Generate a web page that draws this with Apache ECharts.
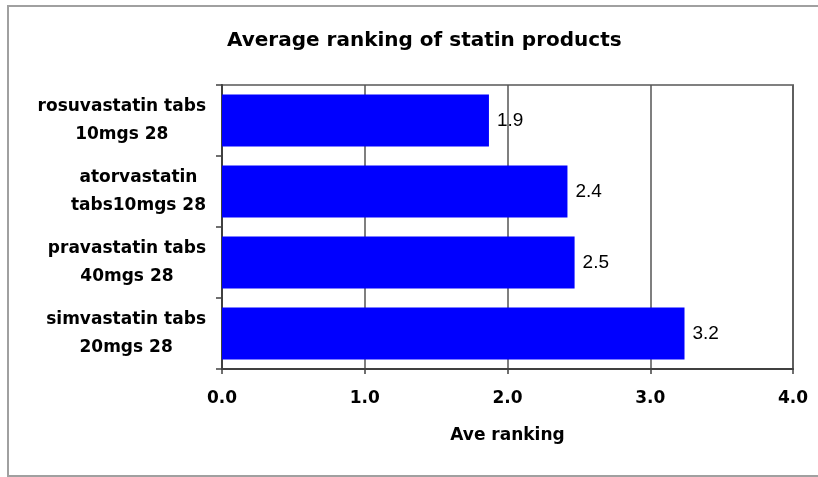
<!DOCTYPE html>
<html>
<head>
<meta charset="utf-8">
<script src="https://cdn.jsdelivr.net/npm/echarts@6/dist/echarts.min.js"></script>
<style>
html,body{margin:0;padding:0;background:#fff;}
#chart{width:818px;height:477px;}
</style>
</head>
<body>
<div id="chart"></div>
<script>
const titleText = 'Average ranking of statin products';
const categories = [
  'rosuvastatin tabs\n10mgs 28',
  'atorvastatin\ntabs10mgs 28',
  'pravastatin tabs\n40mgs 28',
  'simvastatin tabs\n20mgs 28'
];
const aveRanking = [1.87, 2.42, 2.47, 3.24];
const xTicks = [0, 1, 2, 3, 4];
const xAxisName = 'Ave ranking';

const boldFont = 'DejaVu Sans';
const chart = echarts.init(document.getElementById('chart'), null, {renderer: 'canvas'});
chart.setOption({
  animation: false,
  backgroundColor: '#fff',
  title: {
    text: titleText,
    left: 222,
    top: 26,
    textStyle: {fontFamily: boldFont, fontWeight: 'bold', fontSize: 20, color: '#000'}
  },
  graphic: [{
    type: 'rect',
    shape: {x: 8, y: 6, width: 830, height: 470},
    style: {fill: 'none', stroke: '#a0a0a0', lineWidth: 2},
    silent: true
  }],
  grid: {
    left: 222, right: 25, top: 85, bottom: 108,
    show: true, borderColor: '#808080', borderWidth: 2, backgroundColor: 'transparent'
  },
  xAxis: {
    type: 'value',
    min: xTicks[0], max: xTicks[xTicks.length - 1], interval: 1,
    axisLine: {show: true, lineStyle: {color: '#404040', width: 2}},
    axisTick: {show: true, length: 5, lineStyle: {color: '#404040', width: 1.5}},
    splitLine: {show: true, lineStyle: {color: '#555', width: 1.5}},
    axisLabel: {
      margin: 21,
      fontFamily: boldFont, fontWeight: 'bold', fontSize: 17, color: '#000',
      formatter: v => v.toFixed(1)
    },
    name: xAxisName,
    nameLocation: 'middle',
    nameGap: 58,
    nameTextStyle: {fontFamily: boldFont, fontWeight: 'bold', fontSize: 17, color: '#000'}
  },
  yAxis: {
    type: 'category',
    data: categories,
    inverse: true,
    axisLine: {show: true, lineStyle: {color: '#404040', width: 2}},
    axisTick: {show: true, length: 6, lineStyle: {color: '#404040', width: 1.5}},
    splitLine: {show: false},
    axisLabel: {
      margin: 16,
      formatter: v => v.split('\n').map(l => '{c|' + l + '}').join('\n'),
      rich: {
        c: {align: 'center', fontFamily: boldFont, fontWeight: 'bold', fontSize: 17, color: '#000', lineHeight: 28}
      }
    }
  },
  series: [{
    type: 'bar',
    data: aveRanking,
    barCategoryGap: '27%',
    itemStyle: {color: '#0000ff'},
    label: {
      show: true, position: 'right', distance: 8,
      fontFamily: 'Liberation Sans', fontSize: 19, color: '#000',
      formatter: p => p.value.toFixed(1)
    }
  }]
});
</script>
</body>
</html>
